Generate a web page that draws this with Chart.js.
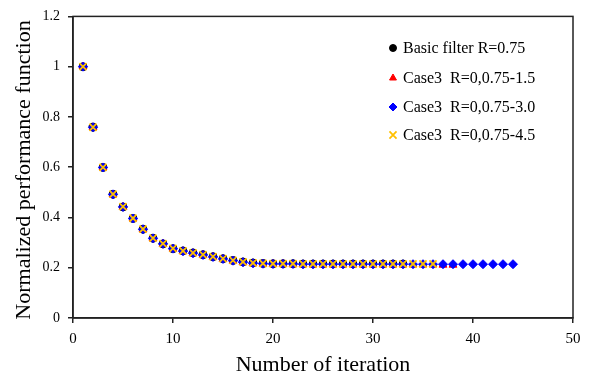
<!DOCTYPE html>
<html>
<head>
<meta charset="utf-8">
<script src="https://cdn.jsdelivr.net/npm/chart.js@4.4.1/dist/chart.umd.min.js"></script>
<style>
html,body{margin:0;padding:0;background:#fff;}
#wrap{width:591px;height:378px;position:relative;}
</style>
</head>
<body>
<div id="wrap"><canvas id="c" width="591" height="378"></canvas></div>
<script>
const seriesNames = ['Basic filter R=0.75', 'Case3  R=0,0.75-1.5', 'Case3  R=0,0.75-3.0', 'Case3  R=0,0.75-4.5'];
const xTitle = 'Number of iteration';
const yTitle = 'Normalized performance function';
const xTickLabels = ['0', '10', '20', '30', '40', '50'];
const yTickLabels = ['0', '0.2', '0.4', '0.6', '0.8', '1', '1.2'];

const basicIter = [1,2,3,4,5,6,7,8,9,10,11,12,13,14,15,16,17,18,19,20,21,22,23,24,25,26,27,28,29,30,31,32,33];
const basicVals = [1.000,0.759,0.599,0.492,0.442,0.396,0.353,0.317,0.295,0.276,0.267,0.259,0.252,0.244,0.236,0.229,0.223,0.219,0.217,0.216,0.216,0.216,0.215,0.215,0.215,0.215,0.215,0.215,0.215,0.215,0.215,0.215,0.215];

const case15Iter = [1,2,3,4,5,6,7,8,9,10,11,12,13,14,15,16,17,18,19,20,21,22,23,24,25,26,27,28,29,30,31,32,33,34,35,36,37,38];
const case15Vals = [1.000,0.758,0.598,0.491,0.441,0.395,0.352,0.316,0.294,0.275,0.265,0.257,0.250,0.242,0.234,0.227,0.221,0.217,0.215,0.214,0.214,0.213,0.213,0.212,0.212,0.212,0.212,0.212,0.212,0.212,0.212,0.212,0.212,0.212,0.212,0.212,0.211,0.211];

const case30Iter = [1,2,3,4,5,6,7,8,9,10,11,12,13,14,15,16,17,18,19,20,21,22,23,24,25,26,27,28,29,30,31,32,33,34,35,36,37,38,39,40,41,42,43,44];
const case30Vals = [1.000,0.759,0.599,0.492,0.442,0.396,0.353,0.317,0.295,0.276,0.266,0.258,0.251,0.243,0.235,0.228,0.222,0.218,0.216,0.215,0.215,0.215,0.214,0.214,0.214,0.214,0.214,0.214,0.214,0.214,0.214,0.214,0.214,0.214,0.214,0.214,0.214,0.214,0.214,0.214,0.214,0.214,0.214,0.214];

const case45Iter = [1,2,3,4,5,6,7,8,9,10,11,12,13,14,15,16,17,18,19,20,21,22,23,24,25,26,27,28,29,30,31,32,33,34,35,36];
const case45Vals = [1.000,0.759,0.599,0.493,0.443,0.397,0.354,0.318,0.296,0.277,0.267,0.259,0.252,0.244,0.236,0.229,0.223,0.219,0.217,0.216,0.216,0.216,0.215,0.215,0.215,0.215,0.215,0.215,0.215,0.215,0.215,0.215,0.215,0.215,0.215,0.215];

function pts(xs, ys) { return xs.map((x, i) => ({x: x, y: ys[i]})); }

const FONT = 'Liberation Serif, "Times New Roman", serif';

const styles = [
  {color: '#000000', pointStyle: 'circle', radius: 4, bw: 1, order: 3, lr: 3.5},
  {color: '#FF0000', pointStyle: 'triangle', radius: 4.5, bw: 1, order: 2, lr: 4},
  {color: '#0000FF', pointStyle: 'rectRot', radius: 4.5, bw: 1, order: 1, lr: 4},
  {color: '#FFC000', pointStyle: 'crossRot', radius: 5, bw: 1.8, order: 0, lr: 5}
];
const dataArr = [pts(basicIter, basicVals), pts(case15Iter, case15Vals), pts(case30Iter, case30Vals), pts(case45Iter, case45Vals)];

const datasets = dataArr.map((d, i) => ({
  label: seriesNames[i],
  data: d,
  showLine: false,
  pointStyle: styles[i].pointStyle,
  pointRadius: styles[i].radius,
  pointHoverRadius: styles[i].radius,
  backgroundColor: styles[i].color,
  borderColor: styles[i].color,
  pointBorderWidth: styles[i].bw,
  order: styles[i].order
}));

const framePlugin = {
  id: 'frame',
  afterDraw(chart) {
    const a = chart.chartArea, ctx = chart.ctx;
    ctx.save();
    ctx.strokeStyle = '#222';
    ctx.lineWidth = 1.5;
    ctx.strokeRect(a.left, a.top, a.right - a.left, a.bottom - a.top);
    // legend inside plot
    const lx = 393, ly = [48, 78, 107, 135];
    ctx.font = '16px ' + FONT;
    ctx.textBaseline = 'middle';
    for (let i = 0; i < 4; i++) {
      const s = styles[i];
      ctx.fillStyle = s.color; ctx.strokeStyle = s.color; ctx.lineWidth = s.bw;
      Chart.helpers.drawPoint(ctx, {pointStyle: s.pointStyle, radius: s.lr, borderWidth: s.bw, rotation: 0}, lx, ly[i]);
      ctx.fillStyle = '#000';
      ctx.fillText(seriesNames[i], lx + 10, ly[i] + 1);
    }
    // y axis title
    ctx.translate(24, 170);
    ctx.rotate(-Math.PI / 2);
    ctx.font = '22px ' + FONT;
    ctx.textAlign = 'center';
    ctx.textBaseline = 'middle';
    ctx.fillStyle = '#000';
    ctx.fillText(yTitle, 0, 0);
    ctx.restore();
  }
};

new Chart(document.getElementById('c'), {
  type: 'scatter',
  data: {datasets: datasets},
  options: {
    responsive: false,
    animation: false,
    devicePixelRatio: 1,
    layout: {padding: {top: 13, right: 18, left: 0, bottom: 0}},
    plugins: {legend: {display: false}, tooltip: {enabled: false}},
    scales: {
      x: {
        type: 'linear', min: 0, max: 50,
        afterFit: s => { s.height = 60; },
        afterBuildTicks: s => { s.ticks = xTickLabels.map(v => ({value: Number(v)})); },
        ticks: {stepSize: 10, color: '#000', font: {family: FONT, size: 15}, padding: 7, maxRotation: 0,
          callback: (v, i) => xTickLabels[i]},
        grid: {drawOnChartArea: false, drawTicks: true, tickLength: 5, tickColor: '#222', lineWidth: 1.5},
        border: {display: true, color: '#222', width: 1.5},
        title: {display: true, text: xTitle, color: '#000', font: {family: FONT, size: 22}, padding: {top: 0, bottom: 0}}
      },
      y: {
        type: 'linear', min: 0, max: 1.2,
        afterFit: s => { s.width = 73; },
        afterBuildTicks: s => { s.ticks = yTickLabels.map(v => ({value: Number(v)})); },
        ticks: {stepSize: 0.2, color: '#000', font: {family: FONT, size: 14}, padding: 8,
          callback: (v, i) => yTickLabels[i]},
        grid: {drawOnChartArea: false, drawTicks: true, tickLength: 5, tickColor: '#222', lineWidth: 1.5},
        border: {display: true, color: '#222', width: 1.5},
        title: {display: false, text: yTitle}
      }
    }
  },
  plugins: [framePlugin]
});
</script>
</body>
</html>
